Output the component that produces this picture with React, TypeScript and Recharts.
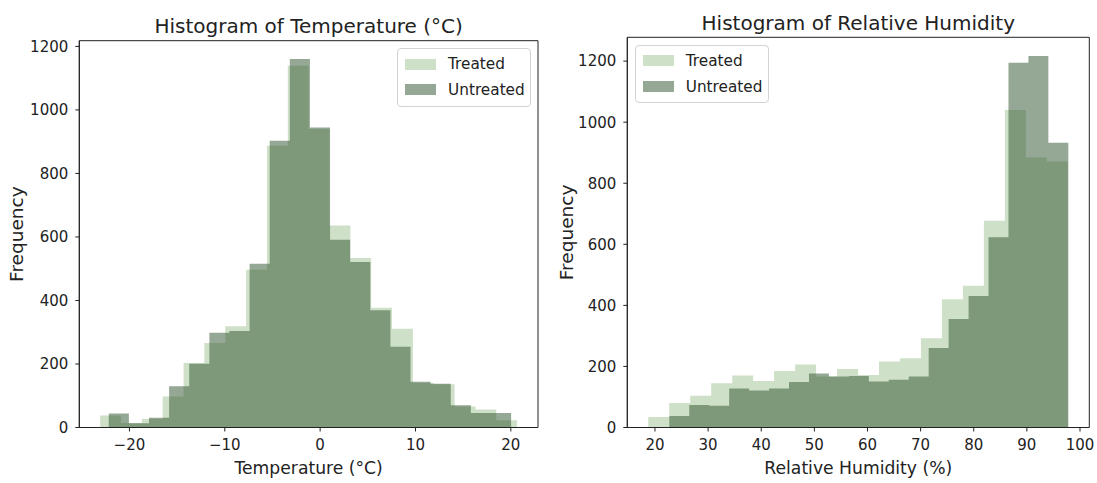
import React from "react";
import { AreaChart, Area, XAxis, YAxis, Legend, ReferenceArea } from "recharts";

// bin counts (20 bins each, matplotlib style)
const TEMP_TREATED = [38, 14, 27, 98, 203, 266, 319, 497, 887, 1139, 940, 636, 534, 377, 311, 140, 136, 66, 57, 23];
const TEMP_UNTREATED = [44, 13, 31, 130, 201, 298, 304, 516, 903, 1160, 945, 591, 521, 369, 254, 144, 138, 70, 46, 46];
const TEMP_TREATED_RANGE: [number, number] = [-23.07, 20.66];
const TEMP_UNTREATED_RANGE: [number, number] = [-22.17, 20.03];

const RH_TREATED = [34, 80, 104, 145, 170, 152, 185, 206, 167, 192, 172, 216, 227, 292, 420, 464, 677, 1040, 884, 871];
const RH_UNTREATED = [38, 74, 71, 128, 121, 128, 149, 177, 167, 169, 151, 156, 167, 260, 355, 431, 623, 1195, 1217, 933];
const RH_TREATED_RANGE: [number, number] = [18.74, 97.7];
const RH_UNTREATED_RANGE: [number, number] = [22.7, 97.8];

const TEMP_X_TICKS = [-20, -10, 0, 10, 20];
const RH_X_TICKS = [20, 30, 40, 50, 60, 70, 80, 90, 100];
const FREQ_TICKS = [0, 200, 400, 600, 800, 1000, 1200];

const TREATED_COLOR = "#9fc191";
const UNTREATED_COLOR = "#2b512b";
const INK = "#222";
const FONT = "'DejaVu Sans', sans-serif";

type Hist = { key: string; counts: number[]; range: [number, number] };

function binEdges(range: [number, number], n: number) {
  const [lo, hi] = range;
  const w = (hi - lo) / n;
  return Array.from({ length: n + 1 }, (_, i) => lo + i * w);
}

// one row per bin edge of either series, value = count of the bin that starts there
function stepRows(series: Hist[]) {
  const withEdges = series.map((s) => ({ ...s, edges: binEdges(s.range, s.counts.length) }));
  const xs = Array.from(new Set(withEdges.flatMap((s) => s.edges.map((v) => +v.toFixed(6))))).sort((a, b) => a - b);
  return xs.map((x) => {
    const row: Record<string, number> = { x };
    for (const s of withEdges) {
      let v = 0;
      for (let i = 0; i < s.counts.length; i++) {
        if (x >= s.edges[i] - 1e-5 && x < s.edges[i + 1] - 1e-5) v = s.counts[i];
      }
      row[s.key] = v;
    }
    return row;
  });
}

const fmtTick = (v: number) => (v < 0 ? `\u2212${-v}` : `${v}`);

function HistLegend(props: any) {
  const items = (props.payload || []) as any[];
  return (
    <div
      style={{
        border: "1px solid #d3d3d3",
        borderRadius: 4,
        background: "rgba(255,255,255,0.8)",
        padding: "2px 0 3px 7px",
        fontFamily: FONT,
        fontSize: 15.3,
        color: INK,
      }}
    >
      {items.map((p) => (
        <div key={p.value} style={{ display: "flex", alignItems: "center", height: 25.7 }}>
          <span
            style={{
              display: "inline-block",
              width: 31,
              height: 11,
              background: p.value === "Treated" ? TREATED_COLOR : UNTREATED_COLOR,
              opacity: 0.5,
            }}
          />
          <span style={{ marginLeft: 12 }}>{p.value}</span>
        </div>
      ))}
    </div>
  );
}

interface HistPanelProps {
  title: string;
  xLabel: string;
  rows: Record<string, number>[];
  xDomain: [number, number];
  yDomain: [number, number];
  xTicks: number[];
  width: number;
  top: number;
  yAxisWidth: number;
  rightMargin: number;
  yLabelX: number;
  legendPos: { left: number; top: number };
}

function HistPanel(p: HistPanelProps) {
  const height = 483;
  const xAxisHeight = height - 427.5;
  return (
    <AreaChart
      width={p.width}
      height={height}
      data={p.rows}
      margin={{ top: p.top, right: p.rightMargin, bottom: 0, left: 0 }}
    >
      <XAxis
        dataKey="x"
        type="number"
        domain={p.xDomain}
        ticks={p.xTicks}
        allowDataOverflow
        height={xAxisHeight}
        tickFormatter={fmtTick}
        tick={{ fill: INK, fontSize: 15, fontFamily: FONT }}
        tickSize={4}
        tickMargin={8}
        axisLine={{ stroke: INK }}
        tickLine={{ stroke: INK }}
        label={{
          value: p.xLabel,
          position: "insideBottom",
          offset: 9,
          fill: INK,
          fontSize: 17.2,
          fontFamily: FONT,
        }}
      />
      <YAxis
        type="number"
        domain={p.yDomain}
        ticks={FREQ_TICKS}
        allowDataOverflow
        width={p.yAxisWidth}
        tick={{ fill: INK, fontSize: 15, fontFamily: FONT }}
        tickSize={4}
        tickMargin={7}
        axisLine={{ stroke: INK }}
        tickLine={{ stroke: INK }}
        label={{
          content: (lp: any) => {
            const vb = lp.viewBox;
            const cy = vb.y + vb.height / 2;
            return (
              <text
                x={p.yLabelX}
                y={cy}
                transform={`rotate(-90, ${p.yLabelX}, ${cy})`}
                textAnchor="middle"
                dominantBaseline="central"
                fill={INK}
                fontSize={18.5}
                fontFamily={FONT}
              >
                Frequency
              </text>
            );
          },
        }}
      />
      <Area
        type="stepAfter"
        dataKey="treated"
        name="Treated"
        fill={TREATED_COLOR}
        fillOpacity={0.5}
        stroke="none"
        dot={false}
        activeDot={false}
        isAnimationActive={false}
      />
      <Area
        type="stepAfter"
        dataKey="untreated"
        name="Untreated"
        fill={UNTREATED_COLOR}
        fillOpacity={0.5}
        stroke="none"
        dot={false}
        activeDot={false}
        isAnimationActive={false}
      />
      {/* axes frame (matplotlib spines) + title */}
      <ReferenceArea
        x1={p.xDomain[0]}
        x2={p.xDomain[1]}
        y1={p.yDomain[0]}
        y2={p.yDomain[1]}
        fill="none"
        fillOpacity={0}
        stroke={INK}
        strokeWidth={1}
        ifOverflow="visible"
        label={{
          content: (lp: any) => {
            const vb = lp.viewBox;
            return (
              <text x={vb.x + vb.width / 2} y={vb.y - 7.5} textAnchor="middle" fill={INK} fontSize={20} fontFamily={FONT}>
                {p.title}
              </text>
            );
          },
        }}
      />
      <Legend
        layout="horizontal"
        verticalAlign="middle"
        align="center"
        content={<HistLegend />}
        wrapperStyle={{ position: "absolute", left: p.legendPos.left, top: p.legendPos.top, width: 134, height: "auto" }}
      />
    </AreaChart>
  );
}

export default function App() {
  const tempRows = stepRows([
    { key: "treated", counts: TEMP_TREATED, range: TEMP_TREATED_RANGE },
    { key: "untreated", counts: TEMP_UNTREATED, range: TEMP_UNTREATED_RANGE },
  ]);
  const rhRows = stepRows([
    { key: "treated", counts: RH_TREATED, range: RH_TREATED_RANGE },
    { key: "untreated", counts: RH_UNTREATED, range: RH_UNTREATED_RANGE },
  ]);

  return (
    <div style={{ position: "absolute", left: 0, top: 0, width: 1097, height: 483, background: "#fff" }}>
      <div style={{ position: "absolute", left: 0, top: 0 }}>
        <HistPanel
          title="Histogram of Temperature (°C)"
          xLabel="Temperature (°C)"
          rows={tempRows}
          xDomain={[-25.26, 22.85]}
          yDomain={[0, 1218]}
          xTicks={TEMP_X_TICKS}
          width={548}
          top={40.7}
          yAxisWidth={79.3}
          rightMargin={10}
          yLabelX={17}
          legendPos={{ left: 397, top: 48.3 }}
        />
      </div>
      <div style={{ position: "absolute", left: 548, top: 0 }}>
        <HistPanel
          title="Histogram of Relative Humidity"
          xLabel="Relative Humidity (%)"
          rows={rhRows}
          xDomain={[14.79, 101.75]}
          yDomain={[0, 1278]}
          xTicks={RH_X_TICKS}
          width={549}
          top={37.3}
          yAxisWidth={79.3}
          rightMargin={7.7}
          yLabelX={19}
          legendPos={{ left: 86.7, top: 45 }}
        />
      </div>
    </div>
  );
}
